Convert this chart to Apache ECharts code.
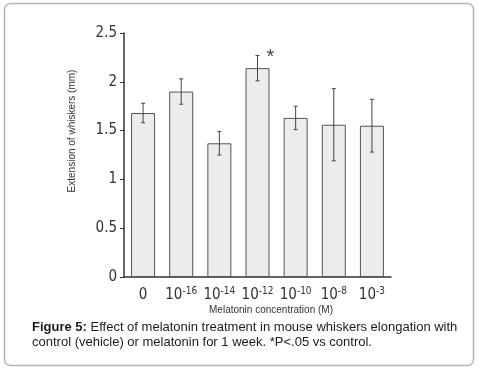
<!DOCTYPE html>
<html>
<head>
<meta charset="utf-8">
<script src="https://cdn.jsdelivr.net/npm/echarts@6/dist/echarts.min.js"></script>
<style>
  html, body { margin: 0; padding: 0; background: #fff; }
  #main { width: 480px; height: 375px; }
</style>
</head>
<body>
<div id="main"></div>
<script>
// melatonin concentration groups (exponent after "^")
const categories = ['0', '10^-16', '10^-14', '10^-12', '10^-10', '10^-8', '10^-3'];
// mean extension of whiskers (mm)
const means = [1.68, 1.90, 1.37, 2.14, 1.63, 1.56, 1.55];
// half length of the error bars
const errors = [0.10, 0.13, 0.12, 0.13, 0.12, 0.37, 0.27];
// significance marks
const marks = ['', '', '', '*', '', '', ''];
const yTicks = [0, 0.5, 1, 1.5, 2, 2.5];

const errData = means.map((m, i) => [i, m - errors[i], m + errors[i], marks[i]]);

const numFont = '"Liberation Sans Narrow", "DejaVu Sans Condensed", "Liberation Sans", sans-serif';

let myChart = echarts.init(document.getElementById('main'));
let option = {
  animation: false,
  grid: { left: 124, right: 89, top: 33, bottom: 98 },
  xAxis: {
    type: 'category',
    data: categories,
    axisLine: { lineStyle: { color: '#333', width: 1.5 } },
    axisTick: { show: false },
    axisLabel: {
      interval: 0,
      margin: 9,
      formatter: function (v) {
        if (v.indexOf('^') < 0) return '{b|' + v + '}';
        return '{b|10}{s|' + v.split('^')[1] + '}';
      },
      rich: {
        b: { fontFamily: numFont, fontSize: 15, color: '#333', lineHeight: 18 },
        s: { fontFamily: numFont, fontSize: 10, color: '#333', lineHeight: 12, verticalAlign: 'top' }
      }
    }
  },
  yAxis: {
    type: 'value',
    min: 0,
    max: 2.5,
    interval: 0.5,
    splitLine: { show: false },
    axisLine: { show: true, lineStyle: { color: '#333', width: 1.5 } },
    axisTick: { show: true, length: 4, lineStyle: { color: '#333' } },
    axisLabel: {
      margin: 7,
      fontFamily: numFont,
      fontSize: 15,
      color: '#333',
      formatter: function (v) { return yTicks.indexOf(v) >= 0 ? String(v) : ''; }
    }
  },
  series: [{
    type: 'bar',
    data: means,
    barWidth: 24,
    itemStyle: { color: '#ececec', borderColor: '#555', borderWidth: 1 }
  }, {
    type: 'custom',
    z: 5,
    data: errData,
    renderItem: function (params, api) {
      let x = api.coord([api.value(0), 0])[0];
      let lo = api.coord([api.value(0), api.value(1)])[1];
      let hi = api.coord([api.value(0), api.value(2)])[1];
      let st = { stroke: '#444', lineWidth: 1 };
      let children = [
        { type: 'line', shape: { x1: x, y1: lo, x2: x, y2: hi }, style: st },
        { type: 'line', shape: { x1: x - 2, y1: lo, x2: x + 2, y2: lo }, style: st },
        { type: 'line', shape: { x1: x - 2, y1: hi, x2: x + 2, y2: hi }, style: st }
      ];
      let mark = errData[params.dataIndex][3];
      if (mark) {
        children.push({
          type: 'text',
          style: { text: mark, x: x + 9, y: hi + 2, fill: '#444', font: '20px "Liberation Sans", sans-serif', textAlign: 'left', textVerticalAlign: 'middle' }
        });
      }
      return { type: 'group', children: children };
    }
  }],
  graphic: [{
    type: 'rect',
    shape: { x: 4.5, y: 3.5, width: 469, height: 362, r: 6 },
    style: { fill: 'none', stroke: '#b5b5b5', lineWidth: 1.5 },
    z: -1
  }, {
    type: 'text',
    rotation: Math.PI / 2,
    x: 72,
    y: 131,
    style: {
      text: 'Extension of whiskers (mm)',
      font: '10px "Liberation Sans", sans-serif',
      fill: '#333',
      textAlign: 'center',
      textVerticalAlign: 'middle'
    }
  }, {
    type: 'text',
    x: 271,
    y: 310,
    style: {
      text: 'Melatonin concentration (M)',
      font: '10px "Liberation Sans", sans-serif',
      fill: '#333',
      textAlign: 'center',
      textVerticalAlign: 'middle'
    }
  }, {
    type: 'text',
    x: 32,
    y: 327,
    style: {
      text: '{a|Figure 5:} Effect of melatonin treatment in mouse whiskers elongation with',
      font: '13px "Liberation Sans", Arial, sans-serif',
      fill: '#1c1c1c',
      textVerticalAlign: 'middle',
      rich: { a: { fontWeight: 'bold', fontSize: 13, fontFamily: '"Liberation Sans", Arial, sans-serif' } }
    }
  }, {
    type: 'text',
    x: 32,
    y: 342,
    style: {
      text: 'control (vehicle) or melatonin for 1 week. *P<.05 vs control.',
      font: '13px "Liberation Sans", Arial, sans-serif',
      fill: '#1c1c1c',
      textVerticalAlign: 'middle'
    }
  }]
};
myChart.setOption(option);
</script>
</body>
</html>
